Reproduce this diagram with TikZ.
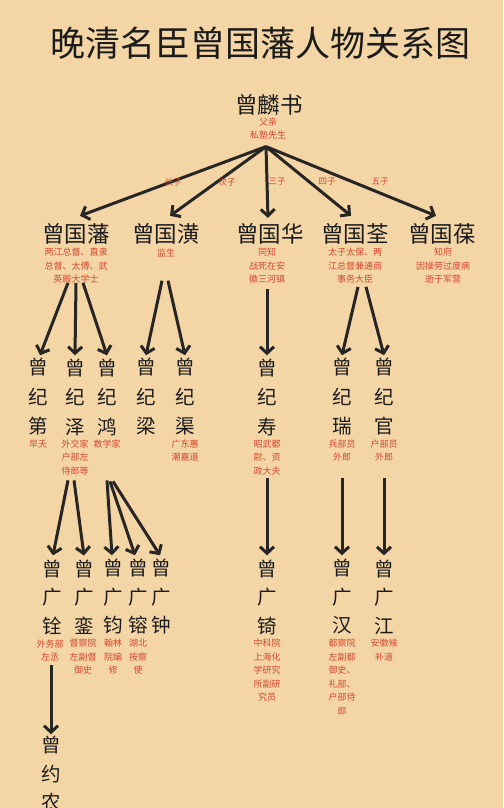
\documentclass[tikz,border=0pt]{standalone}
\usepackage{fontspec}
\setmainfont{Noto Sans CJK SC}
\usetikzlibrary{arrows.meta}
\definecolor{bg}{RGB}{243,213,166}
\definecolor{ink}{RGB}{28,28,28}
\definecolor{arrc}{RGB}{40,38,36}
\definecolor{redc}{RGB}{214,72,48}
\tikzset{
 ttl/.style={font=\fontsize{35}{40}\selectfont, text=ink, inner sep=0},
 nameA/.style={font=\fontsize{22.5}{26}\selectfont, text=ink, inner sep=0},
 vname/.style={font=\fontsize{19.5}{29.5}\selectfont, text=ink, inner sep=0, align=center},
 vnameB/.style={font=\fontsize{19.5}{28.5}\selectfont, text=ink, inner sep=0, align=center},
 desc/.style={font=\fontsize{9}{13.5}\selectfont, text=redc, inner sep=0, align=center},
 elab/.style={font=\fontsize{8.5}{10}\selectfont, text=redc, inner sep=0},
 arr/.style={draw=arrc, line width=3pt, -{Straight Barb[length=6.5pt,width=14pt]}},
}
\begin{document}
\begin{tikzpicture}[x=1pt,y=-1pt]
\clip (0,0) rectangle (503,808);
\fill[bg] (0,0) rectangle (503,808);

\node[ttl] (title) at (260,43) {晚清名臣曾国藩人物关系图};

% father
\node[nameA] (f) at (269,105) {曾麟书};
\node[desc] (fd) at (268,128.5) {父亲\\私塾先生};

% level 1
\node[nameA] (n1) at (76,234) {曾国藩};
\node[nameA] (n2) at (166,234) {曾国潢};
\node[nameA] (n3) at (270,234) {曾国华};
\node[nameA] (n4) at (355,234) {曾国荃};
\node[nameA] (n5) at (442,234) {曾国葆};

\node[desc] (d1) at (76,266) {两江总督、直隶\\总督、太傅、武\\英殿大学士};
\node[desc] (d2) at (166,253) {监生};
\node[desc] (d3) at (267,266) {同知\\战死在安\\徽三河镇};
\node[desc] (d4) at (355,266) {太子太保、两\\江总督兼通商\\事务大臣};
\node[desc] (d5) at (443,266) {知府\\因操劳过度病\\逝于军营};

\draw[arr] ([xshift=-2pt,yshift=-7pt]fd.south) -- ([xshift=4pt,yshift=7.5pt]n1.north);
\draw[arr] ([xshift=-2pt,yshift=-7pt]fd.south) -- ([xshift=4pt,yshift=7.5pt]n2.north);
\draw[arr] ([xshift=-2pt,yshift=-7pt]fd.south) -- ([xshift=-2pt,yshift=5.5pt]n3.north);
\draw[arr] ([xshift=-2pt,yshift=-7pt]fd.south) -- ([xshift=-4pt,yshift=7.5pt]n4.north);
\draw[arr] ([xshift=-2pt,yshift=-7pt]fd.south) -- ([xshift=-6pt,yshift=7.5pt]n5.north);

\node[elab] (l1) at (173,182) {长子};
\node[elab] (l2) at (227,182) {次子};
\node[elab] (l3) at (277,182) {三子};
\node[elab] (l4) at (327,182) {四子};
\node[elab] (l5) at (380,182) {五子};

% level 2
\node[vname] (m1) at (38,397) {曾\\纪\\第};
\node[vname] (m2) at (75,397) {曾\\纪\\泽};
\node[vname] (m3) at (107,397) {曾\\纪\\鸿};
\node[vname] (m4) at (146,397) {曾\\纪\\梁};
\node[vname] (m5) at (185,397) {曾\\纪\\渠};
\node[vname] (m6) at (267,397) {曾\\纪\\寿};
\node[vname] (m7) at (342,397) {曾\\纪\\瑞};
\node[vname] (m8) at (384,397) {曾\\纪\\官};

\draw[arr] ([xshift=-8pt,yshift=1pt]d1.south) -- ([xshift=2pt,yshift=3pt]m1.north);
\draw[arr] ([xshift=0pt,yshift=1pt]d1.south) -- ([yshift=3pt]m2.north);
\draw[arr] ([xshift=7pt,yshift=1pt]d1.south) -- ([yshift=3pt]m3.north);
\draw[arr] ([xshift=-4pt,yshift=-23.5pt]d2.south) -- ([yshift=3pt]m4.north);
\draw[arr] ([xshift=2pt,yshift=-23.5pt]d2.south) -- ([yshift=3pt]m5.north);
\draw[arr] ([yshift=-5pt]d3.south) -- ([yshift=3pt]m6.north);
\draw[arr] ([xshift=3pt,yshift=-3pt]d4.south) -- ([yshift=3pt]m7.north);
\draw[arr] ([xshift=11pt,yshift=-3pt]d4.south) -- ([yshift=3pt]m8.north);

\node[desc] (e1) at (38,444) {早夭};
\node[desc] (e2) at (75,457.5) {外交家\\户部左\\侍郎等};
\node[desc] (e3) at (107,444) {数学家};
\node[desc] (e5) at (185,450.75) {广东惠\\潮嘉道};
\node[desc] (e6) at (267,457.5) {昭武都\\尉、资\\政大夫};
\node[desc] (e7) at (342,450.75) {兵部员\\外郎};
\node[desc] (e8) at (384,450.75) {户部员\\外郎};

% level 3
\node[vnameB] (k1) at (52,597) {曾\\广\\铨};
\node[vnameB] (k2) at (84,597) {曾\\广\\銮};
\node[vnameB] (k3) at (113,597) {曾\\广\\钧};
\node[vnameB] (k4) at (138,597) {曾\\广\\镕};
\node[vnameB] (k5) at (161,597) {曾\\广\\钟};
\node[vnameB] (k6) at (267,597) {曾\\广\\锜};
\node[vnameB] (k7) at (342,597) {曾\\广\\汉};
\node[vnameB] (k8) at (384,597) {曾\\广\\江};

\draw[arr] ([xshift=-7pt,yshift=-5pt]e2.south) -- ([xshift=1pt,yshift=4pt]k1.north);
\draw[arr] ([xshift=-1pt,yshift=-5pt]e2.south) -- ([yshift=4pt]k2.north);
\draw[arr] ([xshift=0pt,yshift=-32pt]e3.south) -- ([xshift=-1pt,yshift=4pt]k3.north);
\draw[arr] ([xshift=3pt,yshift=-33pt]e3.south) -- ([xshift=-3pt,yshift=4pt]k4.north);
\draw[arr] ([xshift=6pt,yshift=-33pt]e3.south) -- ([xshift=-1pt,yshift=4pt]k5.north);
\draw[arr] ([yshift=-3pt]e6.south) -- ([yshift=4pt]k6.north);
\draw[arr] ([yshift=-16pt]e7.south) -- ([yshift=4pt]k7.north);
\draw[arr] ([yshift=-16pt]e8.south) -- ([yshift=4pt]k8.north);

\node[desc] (g1) at (50,650.25) {外务部\\左丞};
\node[desc] (g2) at (83,657) {督察院\\左副督\\御史};
\node[desc] (g3) at (113,657) {翰林\\院编\\修};
\node[desc] (g4) at (138,657) {湖北\\按察\\使};
\node[desc] (g6) at (267,670.5) {中科院\\上海化\\学研究\\所副研\\究员};
\node[desc] (g7) at (342,677.25) {都察院\\左副都\\御史、\\礼部、\\户部侍\\郎};
\node[desc] (g8) at (384,650.25) {安徽候\\补道};

% level 4
\node[vnameB] (z1) at (51,774) {曾\\约\\农};
\draw[arr] ([xshift=1pt,yshift=-4pt]g1.south) -- ([yshift=2pt]z1.north);
\end{tikzpicture}
\end{document}
